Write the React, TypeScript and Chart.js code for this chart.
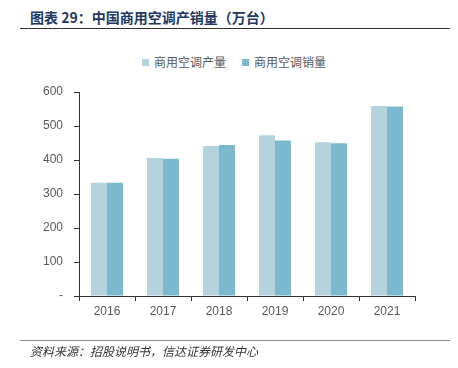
import React, { useEffect, useRef } from "react";
import { Chart, registerables } from "chart.js";

Chart.register(...registerables);

const categories = ["2016", "2017", "2018", "2019", "2020", "2021"];
const productionValues = [333, 406, 441, 473, 452, 559];
const salesValues = [333, 404, 444, 457, 449, 557];
const seriesNames = ["商用空调产量", "商用空调销量"];
const yTicks = [0, 100, 200, 300, 400, 500, 600];

const titleText = "图表 29：中国商用空调产销量（万台）";
const sourceText = "资料来源：招股说明书，信达证券研发中心";

const colors = ["#b5d3df", "#7bb9cf"];

export default function App() {
  const ref = useRef<HTMLCanvasElement | null>(null);

  useEffect(() => {
    if (!ref.current) return;
    const chart = new Chart(ref.current, {
      type: "bar",
      data: {
        labels: categories,
        datasets: [
          {
            label: seriesNames[0],
            data: productionValues,
            backgroundColor: colors[0],
            categoryPercentage: 0.57,
            barPercentage: 1,
          },
          {
            label: seriesNames[1],
            data: salesValues,
            backgroundColor: colors[1],
            categoryPercentage: 0.57,
            barPercentage: 1,
          },
        ],
      },
      options: {
        animation: false,
        responsive: false,
        maintainAspectRatio: false,
        layout: { padding: { left: 0, right: 43, top: 92, bottom: 42 } },
        plugins: {
          legend: { display: false },
          tooltip: { enabled: false },
          title: { display: false },
        },
        scales: {
          x: {
            offset: true,
            grid: {
              display: true,
              drawOnChartArea: false,
              offset: true,
              tickLength: 5,
              color: "#333333",
            },
            border: { display: true, color: "#333333", width: 1 },
            ticks: {
              color: "#595959",
              font: { family: "'Liberation Sans', Arial, sans-serif", size: 12 },
              padding: 3,
            },
            afterFit: (scale: any) => {
              scale.height = 30;
            },
          },
          y: {
            min: yTicks[0],
            max: yTicks[yTicks.length - 1],
            afterBuildTicks: (scale: any) => {
              scale.ticks = yTicks.map((v) => ({ value: v }));
            },
            grid: {
              display: true,
              drawOnChartArea: false,
              tickLength: 5,
              color: "#333333",
            },
            border: { display: true, color: "#333333", width: 1 },
            ticks: {
              color: "#595959",
              font: { family: "'Liberation Sans', Arial, sans-serif", size: 12 },
              padding: 11,
              callback: (v: any) => (Number(v) === 0 ? "-" : String(v)),
            },
            afterFit: (scale: any) => {
              scale.width = 79;
            },
          },
        },
      },
    });
    return () => chart.destroy();
  }, []);

  const cjk = "'Noto Sans CJK SC', 'Noto Sans', sans-serif";

  return (
    <div
      style={{
        position: "absolute",
        left: 0,
        top: 0,
        width: 458,
        height: 368,
        background: "#ffffff",
        overflow: "hidden",
        fontFamily: cjk,
      }}
    >
      <div
        style={{
          position: "absolute",
          left: 30,
          top: 7,
          fontSize: 14,
          fontWeight: 700,
          color: "#1f3864",
          lineHeight: "20px",
          whiteSpace: "nowrap",
        }}
      >
        {titleText}
      </div>
      <div
        style={{
          position: "absolute",
          left: 20,
          top: 28,
          width: 430,
          height: 1,
          background: "#333333",
        }}
      />
      <div
        style={{
          position: "absolute",
          left: 0,
          top: 53,
          width: 458,
          display: "flex",
          justifyContent: "center",
          paddingLeft: 10,
          boxSizing: "border-box",
          fontSize: 12,
          color: "#595959",
          lineHeight: "18px",
          whiteSpace: "nowrap",
        }}
      >
        {seriesNames.map((name, i) => (
          <span
            key={name}
            style={{ display: "inline-flex", alignItems: "center", marginRight: i === 0 ? 16 : 0 }}
          >
            <span
              style={{
                display: "inline-block",
                width: 7,
                height: 7,
                background: colors[i],
                marginRight: 5,
              }}
            />
            {name}
          </span>
        ))}
      </div>
      <canvas
        ref={ref}
        width={458}
        height={368}
        style={{ position: "absolute", left: 0, top: 0, width: 458, height: 368 }}
      />
      <div
        style={{
          position: "absolute",
          left: 20,
          top: 340,
          width: 430,
          height: 1,
          background: "#8c8c8c",
        }}
      />
      <div
        style={{
          position: "absolute",
          left: 30,
          top: 343,
          fontSize: 12,
          fontStyle: "italic",
          color: "#333333",
          lineHeight: "16px",
          whiteSpace: "nowrap",
        }}
      >
        {sourceText}
      </div>
    </div>
  );
}
